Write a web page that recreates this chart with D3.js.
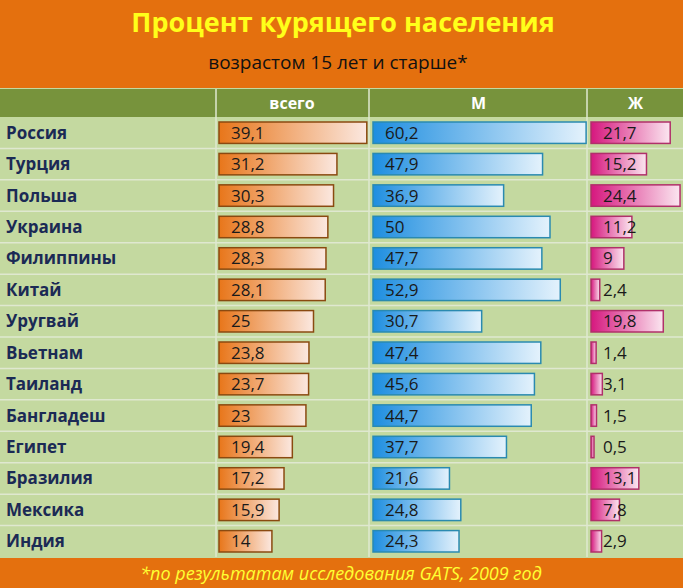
<!DOCTYPE html>
<html><head><meta charset="utf-8">
<script src="https://cdn.jsdelivr.net/npm/d3@7"></script>
<style>body{margin:0;background:#c4d9a0}svg{display:block;font-family:"Open Sans",sans-serif}</style>
</head><body><svg id="c" width="683" height="588"></svg>
<script>
var countries = ['Россия','Турция','Польша','Украина','Филиппины','Китай','Уругвай','Вьетнам','Таиланд','Бангладеш','Египет','Бразилия','Мексика','Индия'];
var total = [39.1,31.2,30.3,28.8,28.3,28.1,25,23.8,23.7,23,19.4,17.2,15.9,14];
var men = [60.2,47.9,36.9,50,47.7,52.9,30.7,47.4,45.6,44.7,37.7,21.6,24.8,24.3];
var women = [21.7,15.2,24.4,11.2,9,2.4,19.8,1.4,3.1,1.5,0.5,13.1,7.8,2.9];
var headers = ['всего','М','Ж'];

var svg = d3.select('#c');
var defs = svg.append('defs');
var cols = [
  {data: total, x0: 216, x1: 368, px: 3.78, c: '#e8761a', end: '#fbe8e0', stroke: '#8a4a10', grad: 'gOr'},
  {data: men, x0: 370, x1: 587, px: 3.54, c: '#1e8ee0', end: '#e4f2fc', stroke: '#2a8ab0', grad: 'gBl'},
  {data: women, x0: 588, x1: 683, px: 3.65, c: '#d6177e', end: '#fbe6f0', stroke: '#b0306a', grad: 'gPk'}
];
cols.forEach(function(col){
  var g = defs.append('linearGradient').attr('id', col.grad);
  g.append('stop').attr('offset', '0%').attr('stop-color', col.c);
  g.append('stop').attr('offset', '100%').attr('stop-color', col.end);
});

// title band
svg.append('rect').attr('width', 683).attr('height', 88).attr('fill', '#e4700e');
svg.append('text').attr('x', 343).attr('y', 32).attr('text-anchor', 'middle')
  .attr('font-size', 27).attr('font-weight', 'bold').attr('fill', '#ffff1a')
  .text('Процент курящего населения');
svg.append('text').attr('x', 338).attr('y', 69).attr('text-anchor', 'middle')
  .attr('font-size', 19).attr('fill', '#111').text('возрастом 15 лет и старше*');

// header
svg.append('rect').attr('y', 89).attr('width', 683).attr('height', 28).attr('fill', '#77933c');
headers.forEach(function(h, i){
  svg.append('text').attr('x', (cols[i].x0 + cols[i].x1)/2).attr('y', 109)
    .attr('text-anchor', 'middle').attr('font-size', 16).attr('font-weight', 'bold')
    .attr('fill', '#fff').text(h);
});

var y = d3.scaleBand().domain(countries).range([117, 557]);

// grid
[216, 369, 587].forEach(function(x){
  svg.append('line').attr('x1', x).attr('x2', x).attr('y1', 89).attr('y2', 557)
    .attr('stroke', '#dfe8d0').attr('stroke-width', 1.5);
});
svg.selectAll('.hl').data(countries.slice(1)).enter().append('line')
  .attr('x1', 0).attr('x2', 683)
  .attr('y1', function(d){ return y(d); }).attr('y2', function(d){ return y(d); })
  .attr('stroke', '#dfe8d0').attr('stroke-width', 1.5);

svg.selectAll('.nm').data(countries).enter().append('text')
  .attr('x', 6).attr('y', function(d){ return y(d) + y.bandwidth()/2 + 6; })
  .attr('font-size', 17).attr('font-weight', 'bold').attr('fill', '#1b2a55')
  .text(function(d){ return d; });

cols.forEach(function(col){
  var x = d3.scaleLinear().domain([0, 1]).range([col.x0 + 3, col.x0 + 3 + col.px]);
  var g = svg.append('g');
  g.selectAll('rect').data(col.data).enter().append('rect')
    .attr('x', x(0)).attr('y', function(d, i){ return y(countries[i]) + 5; })
    .attr('width', function(d){ return Math.max(x(d) - x(0), 3); })
    .attr('height', y.bandwidth() - 10)
    .attr('fill', 'url(#' + col.grad + ')').attr('stroke', col.stroke).attr('stroke-width', 1.5);
  g.selectAll('text').data(col.data).enter().append('text')
    .attr('x', x(0) + 12).attr('y', function(d, i){ return y(countries[i]) + y.bandwidth()/2 + 6; })
    .attr('font-size', 17).attr('fill', '#1a1a1a')
    .text(function(d){ return String(d).replace('.', ','); });
});

// footer
svg.append('rect').attr('y', 558).attr('width', 683).attr('height', 30).attr('fill', '#e4700e');
svg.append('text').attr('x', 341).attr('y', 580).attr('text-anchor', 'middle')
  .attr('font-size', 18).attr('font-style', 'italic').attr('fill', '#ffff33')
  .text('*по результатам исследования GATS, 2009 год');
</script></body></html>
